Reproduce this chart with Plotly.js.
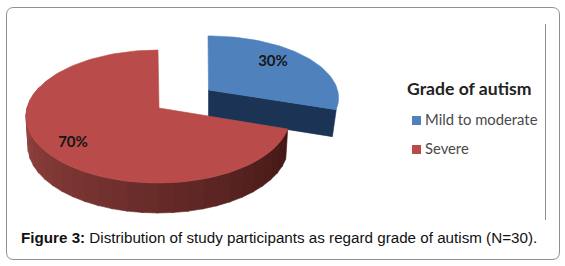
<!DOCTYPE html>
<html><head><meta charset="utf-8">
<script src="https://cdn.plot.ly/plotly-3.0.1.min.js"></script>
<style>html,body{margin:0;padding:0;background:#fff}#c{width:565px;height:266px}</style>
</head><body><div id="c"></div>
<script>
const categories = ["Mild to moderate", "Severe"];
const values = [30, 70];
const topColors = ["#4F81BD", "#B94C4A"];
const sideColors = ["#1B3456", null];
const redSideStart = [160, 74, 71], redSideEnd = [68, 24, 22];
const legendTitle = "Grade of autism";
const caption = "<b>Figure 3:</b> Distribution of study participants as regard grade of autism (N=30).";

// projected-disc geometry of each slice
const geom = [
  {ax: 208, ay: 90, cut: 208.5, rx: 129.5, ry: 61, k: 0.128, depth: 27, inset: 0.97},
  {ax: 158, ay: 108, cut: 159, rx: 131, ry: 65.4, k: 0.128, depth: 30, inset: 0.985}
];
const total = values.reduce((a, b) => a + b, 0);
const spans = []; let acc = 0;
values.forEach(v => { spans.push([acc / total * 360, (acc + v) / total * 360]); acc += v; });

function pt(g, deg, side) {
  const a = deg * Math.PI / 180, w = 1 + g.k * Math.cos(a);
  const s = side ? g.inset : 1;
  return [g.ax + s * g.rx * Math.sin(a) / w, g.ay - g.ry * Math.cos(a) / w + (side ? g.depth : 0)];
}
function poly(points, color) {
  return {type: "scatter", mode: "lines", x: points.map(p => p[0]), y: points.map(p => p[1]),
    fill: "toself", fillcolor: color, line: {color: color, width: 0.6}, hoverinfo: "skip", showlegend: false};
}
function wedge(g, from, to, color) {
  const pts = [[g.cut, g.ay]];
  for (let d = from; d <= to + 0.01; d += 2) pts.push(pt(g, d, false));
  pts.push([g.cut, g.ay]);
  return poly(pts, color);
}
const traces = [];
// exploded slice: flat cut face, then top
const gb = geom[0], endB = pt(gb, spans[0][1], false), endBs = pt(gb, spans[0][1], true);
traces.push(poly([[gb.cut, gb.ay], endB, endBs, [gb.cut, gb.ay + gb.depth], [gb.cut, gb.ay]], sideColors[0]));
traces.push(wedge(gb, spans[0][0], spans[0][1], topColors[0]));
// main slice: shaded rim strips, then top
const gr = geom[1];
const from = spans[1][0], to = Math.min(spans[1][1], 290), step = 6;
for (let d = from; d < to; d += step) {
  const t = (to - d) / (to - from);
  const c = redSideStart.map((s, i) => Math.round(s + (redSideEnd[i] - s) * t));
  const col = `rgb(${c[0]},${c[1]},${c[2]})`;
  const e = Math.min(d + step + 0.5, to);
  traces.push(poly([pt(gr, d, false), pt(gr, e, false), pt(gr, e, true), pt(gr, d, true), pt(gr, d, false)], col));
}
traces.push(wedge(gr, spans[1][0], spans[1][1], topColors[1]));
// slice value labels
traces.push({type: "scatter", mode: "text", x: [273, 73], y: [62, 143],
  text: values.map(v => v + "%"), textposition: "middle center",
  textfont: {family: "Lato, sans-serif", size: 15, color: "#151515"}, hoverinfo: "skip", showlegend: false,
  texttemplate: "<b>%{text}</b>"});
// legend keys and labels
traces.push({type: "scatter", mode: "markers", x: [416.5, 416.5], y: [120.5, 149.5],
  marker: {symbol: "square", size: 9, color: topColors}, hoverinfo: "skip", showlegend: false});
traces.push({type: "scatter", mode: "text", x: [425, 425], y: [121.5, 150],
  text: categories, textposition: "middle right",
  textfont: {family: "Lato, sans-serif", size: 14.8, color: "#4a4a4a"}, hoverinfo: "skip", showlegend: false});

const layout = {
  width: 565, height: 266, margin: {l: 0, r: 0, t: 0, b: 0},
  paper_bgcolor: "#fff", plot_bgcolor: "#fff", showlegend: false,
  xaxis: {range: [0, 565], visible: false, fixedrange: true},
  yaxis: {range: [266, 0], visible: false, fixedrange: true},
  shapes: [
    {type: "path", layer: "below", line: {color: "#8f8f8f", width: 1},
     path: "M 14 7.5 L 552 7.5 Q 559.5 7.5 559.5 15 L 559.5 252 Q 559.5 259.5 552 259.5 L 14 259.5 Q 6.5 259.5 6.5 252 L 6.5 15 Q 6.5 7.5 14 7.5 Z"},
    {type: "line", layer: "below", x0: 545.5, x1: 545.5, y0: 24, y1: 220, line: {color: "#8f8f8f", width: 1}}
  ],
  annotations: [
    {text: "<b>" + legendTitle + "</b>", x: 405, y: 88, xref: "x", yref: "y", xanchor: "left", yanchor: "middle",
     showarrow: false, font: {family: "Lato, sans-serif", size: 17.6, color: "#222"}},
    {text: caption, x: 18.5, y: 237, xref: "x", yref: "y", xanchor: "left", yanchor: "middle",
     showarrow: false, font: {family: "Liberation Sans, Arial, sans-serif", size: 15.2, color: "#111"}}
  ]
};
Plotly.newPlot("c", traces, layout, {staticPlot: true, displayModeBar: false});
</script></body></html>
